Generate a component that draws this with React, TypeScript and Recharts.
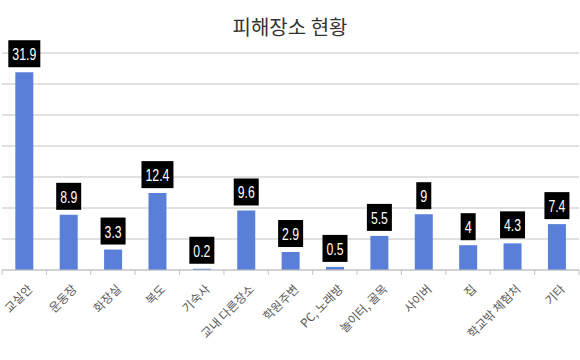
import { BarChart, Bar, XAxis, YAxis, CartesianGrid, LabelList } from "recharts";

const places = [
  "교실안",
  "운동장",
  "화장실",
  "복도",
  "기숙사",
  "교내 다른장소",
  "학원주변",
  "PC, 노래방",
  "놀이터, 골목",
  "사이버",
  "집",
  "학교밖 체험처",
  "기타",
];
const rates = [31.9, 8.9, 3.3, 12.4, 0.2, 9.6, 2.9, 0.5, 5.5, 9, 4, 4.3, 7.4];
const yTicks = [0, 5, 10, 15, 20, 25, 30, 35];

const data = places.map((name, i) => ({ name, value: rates[i] }));

const W = 580;
const H = 360;
const M = { top: 53, right: 1, bottom: 5, left: 2 };
const band = (W - M.left - M.right) / places.length;
const GRID = "#c3c3c3";
const FONT = "'Noto Sans CJK KR', 'Noto Sans', sans-serif";

function textWidth(s: string) {
  let w = 0;
  for (const ch of s) w += ch === "." ? 3 : 7;
  return w;
}

function ValueBox(props: any) {
  const { x, y, width, value } = props;
  const s = String(value);
  const tw = textWidth(s);
  const bw = tw + 8;
  const bh = 27;
  const cx = x + width / 2;
  const top = y - 5 - bh;
  return (
    <g>
      <rect x={cx - bw / 2} y={top} width={bw} height={bh} fill="#000" />
      <text
        x={cx}
        y={top + 20}
        textAnchor="middle"
        fill="#fff"
        fontSize={17}
        fontFamily="'Liberation Sans', sans-serif"
        textLength={tw}
        lengthAdjust="spacingAndGlyphs"
      >
        {s}
      </text>
    </g>
  );
}

function PlaceTick(props: any) {
  const { x, y, payload, index } = props;
  const last = index === places.length - 1;
  const tx = x + 9;
  const ty = y + 20;
  return (
    <g>
      <line x1={x - band / 2} x2={x - band / 2} y1={y} y2={y + 5} stroke={GRID} />
      {last && <line x1={x + band / 2} x2={x + band / 2} y1={y} y2={y + 5} stroke={GRID} />}
      <text
        x={tx}
        y={ty}
        textAnchor="end"
        fontSize={12}
        fill="#595959"
        fontFamily={FONT}
        transform={`rotate(-45, ${tx}, ${ty})`}
      >
        {payload.value}
      </text>
    </g>
  );
}

export default function App() {
  return (
    <div style={{ position: "absolute", left: 0, top: 0, width: W, height: H, background: "#fff" }}>
      <div
        style={{
          position: "absolute",
          top: 12,
          width: W,
          textAlign: "center",
          fontFamily: FONT,
          fontSize: 20,
          color: "#333",
        }}
      >
        피해장소 현황
      </div>
      <BarChart width={W} height={H} data={data} margin={M} barCategoryGap="30%">
        <CartesianGrid vertical={false} stroke={GRID} />
        <YAxis hide domain={[0, 35]} ticks={yTicks} />
        <XAxis
          dataKey="name"
          interval={0}
          height={85}
          tickSize={0}
          tickMargin={0}
          tickLine={false}
          axisLine={{ stroke: GRID }}
          tick={<PlaceTick />}
        />
        <Bar dataKey="value" fill="#5a7fd8" isAnimationActive={false}>
          <LabelList dataKey="value" content={<ValueBox />} />
        </Bar>
      </BarChart>
    </div>
  );
}
